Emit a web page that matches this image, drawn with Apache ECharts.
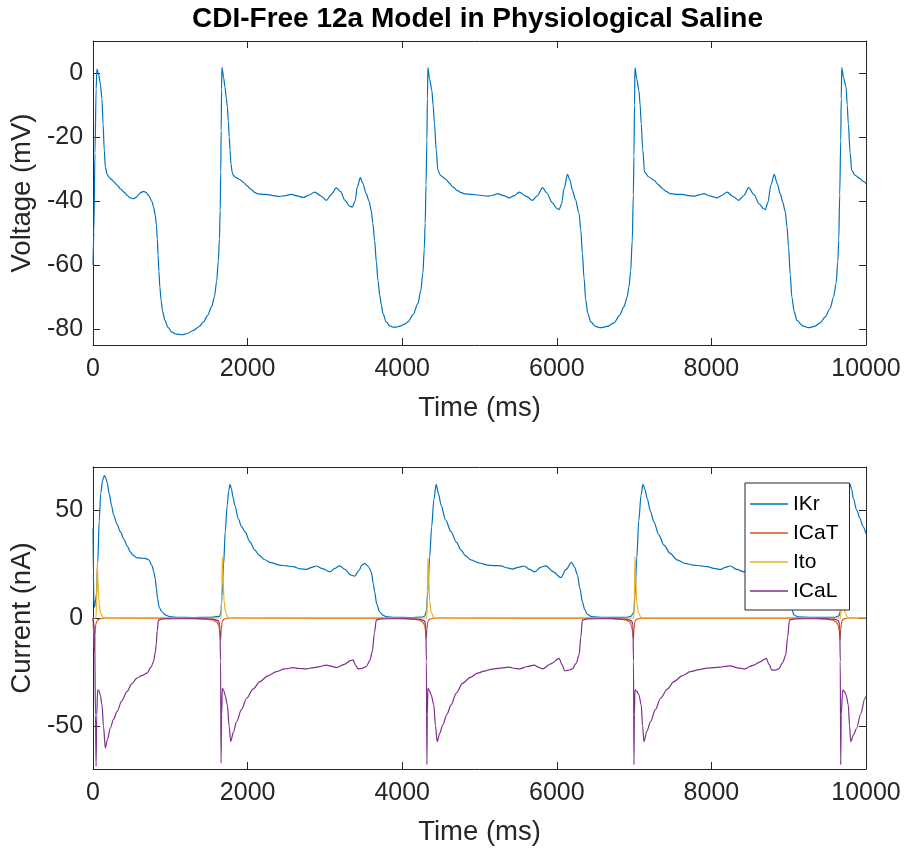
<!DOCTYPE html>
<html>
<head>
<meta charset="utf-8">
<script src="https://cdn.jsdelivr.net/npm/echarts@6/dist/echarts.min.js"></script>
<style>
  html, body { margin: 0; padding: 0; background: #fff; }
  #chart { width: 904px; height: 850px; }
</style>
</head>
<body>
<div id="chart"></div>
<script>
// Simulated membrane voltage (mV) over time (ms)
const voltage = [
  [0,-60],[10,-50],[25,-25],[40,-5],[50,1.2],[70,0],[95,-3.5],[115,-8],[130,-16],[145,-24],[160,-29.5],[180,-31.5],
  [205,-32.5],[240,-33.3],[270,-34],[310,-35],[355,-36.2],[400,-37.2],[440,-38.2],[480,-39],[525,-39.3],[560,-38.8],
  [590,-38],[620,-37.3],[655,-37],[690,-37.4],[720,-38.3],[760,-40],[785,-42],[805,-44.5],[820,-47.5],[832,-52],
  [842,-57],[852,-62],[865,-67],[880,-71],[900,-74.5],[930,-77.3],[970,-79.5],[1020,-81],[1080,-81.6],[1150,-81.8],
  [1220,-81.4],[1300,-80.4],[1370,-79.3],[1430,-77.8],[1480,-75.8],[1535,-73],[1570,-70],[1600,-65],[1620,-59],
  [1635,-52],[1645,-43],[1652,-31],[1658,-18],[1663,-5],[1668,1.8],
  [1690,-1.5],[1707,-4.4],[1725,-8],[1738,-10.6],[1750,-15],[1762,-20],[1772,-24],[1785,-28.5],[1800,-31],[1815,-32],
  [1850,-32.7],[1900,-33.3],[1950,-34.3],[1990,-35.2],[2040,-36.3],[2090,-37.3],[2140,-37.8],[2200,-37.9],[2260,-38],
  [2330,-38.3],[2417,-38.6],[2490,-38.3],[2568,-37.9],[2640,-38.4],[2719,-38.9],[2790,-38.2],[2869,-37.2],[2940,-38.3],
  [3019,-39.8],[3080,-38],[3148,-35.9],[3200,-37],[3260,-39.8],[3320,-41.6],[3355,-41.9],[3390,-40],[3420,-35.5],
  [3458,-32.7],[3490,-34.5],[3535,-37.7],[3570,-40],[3600,-43],[3620,-47],[3643,-52.3],[3665,-59],[3686,-64.8],
  [3710,-69.5],[3730,-72.5],[3751,-75.2],[3794,-77.8],[3840,-79],[3880,-79.4],[3923,-79.4],[3980,-79],[4030,-78.5],
  [4074,-77.8],[4140,-75.5],[4203,-72.1],[4240,-68],[4267,-62.7],[4285,-55],[4297,-47],[4308,-35],[4319,-21],
  [4326,-8],[4332,1.7],
  [4355,-2],[4383,-5.4],[4400,-10],[4417,-15.8],[4440,-24],[4461,-30.4],[4495,-32],[4530,-32.6],[4568,-33.3],
  [4610,-34.4],[4654,-35.6],[4710,-36.7],[4761,-37.4],[4820,-37.8],[4890,-37.9],[5000,-38.2],[5106,-38.5],[5170,-38.2],
  [5235,-37.7],[5310,-38.3],[5385,-39],[5450,-38.3],[5514,-37.2],[5600,-38.5],[5686,-39.8],[5750,-38.3],[5815,-35.8],
  [5870,-37.5],[5940,-40.5],[6000,-42.3],[6030,-42.7],[6060,-41],[6095,-36],[6138,-31.7],[6170,-33.5],[6203,-36.7],
  [6240,-39.5],[6288,-43.9],[6310,-49],[6331,-56.4],[6352,-64],[6374,-71],[6400,-75],[6439,-77.8],[6500,-79.2],
  [6568,-79.6],[6650,-79.2],[6740,-78.1],[6810,-75.8],[6869,-73],[6910,-70],[6933,-66.9],[6955,-62],[6976,-52.3],
  [6990,-38],[6998,-26],[7005,-10],[7011,1.7],
  [7035,-2],[7062,-5.4],[7078,-10],[7092,-15.8],[7112,-24],[7135,-30.9],[7191,-32.5],[7256,-33.5],[7310,-34.8],
  [7364,-36.1],[7420,-37.1],[7471,-37.7],[7540,-37.9],[7622,-37.9],[7700,-38.3],[7772,-38.5],[7840,-38.1],[7901,-37.7],
  [7990,-38.5],[8073,-39],[8140,-38.2],[8202,-37.2],[8280,-38.6],[8353,-39.8],[8420,-38.3],[8482,-35.8],[8550,-38],
  [8620,-41],[8680,-42.5],[8697,-42.7],[8730,-40.5],[8770,-35],[8813,-31.7],[8850,-34.5],[8890,-37.7],[8925,-40.5],
  [8955,-43.4],[8978,-48],[8998,-54.4],[9020,-63],[9041,-70],[9070,-74.5],[9106,-77.3],[9180,-79],[9256,-79.6],
  [9330,-79.2],[9406,-78.1],[9470,-76.3],[9535,-73.6],[9580,-70],[9613,-65.8],[9635,-59],[9647,-52.3],[9660,-38],
  [9673,-21],[9680,-8],[9686,1.7],
  [9710,-1.5],[9742,-4.4],[9757,-10],[9771,-15.8],[9795,-25],[9815,-30.4],[9858,-32],[9923,-33],[9960,-33.8],[10000,-34.6]
];

// Rapid delayed rectifier K+ current (nA)
const iKr = [
  [0,41.5],[5,20],[12,6],[20,5],[35,9],[43,10.6],[60,25],[80,45],[100,58],[125,64],[146,66],[165,65],[181,63.1],
  [210,57.5],[240,52],[267,47.7],[310,43.5],[353,40],[400,36.5],[440,33.5],[482,30.7],[520,29],[568,27.9],[620,27.8],
  [675,27.6],[720,27],[761,24.5],[785,21.5],[804,18.4],[820,13.5],[835,9.1],[855,5],[890,2.9],[940,1.3],[998,0.6],
  [1100,0.3],[1300,0.2],[1500,0.3],[1600,0.6],
  [1640,0.9],[1655,3],[1668,10],[1690,25],[1710,40],[1735,52],[1755,59],[1772,62],[1790,60],[1810,56],[1836,52],
  [1880,46],[1920,42.5],[1965,40],[2030,35.3],[2094,31.5],[2150,29],[2223,27],[2300,25.7],[2417,24.5],[2500,24.2],
  [2589,23.8],[2680,22.8],[2761,22.5],[2830,23.5],[2890,24.1],[2960,23],[3062,21.4],[3130,23],[3191,24.2],[3260,22.5],
  [3330,20],[3385,19.4],[3440,22],[3480,24.6],[3514,25.3],[3560,24],[3600,21.4],[3625,16],[3643,12.2],[3670,6.5],
  [3707,2.9],[3750,1.3],[3794,0.6],[3900,0.3],[4100,0.2],[4250,0.4],
  [4290,0.8],[4310,3],[4332,12.2],[4355,28],[4380,42],[4410,55],[4439,62],[4470,57.5],[4503,52.3],[4560,45.5],
  [4632,40],[4700,35.2],[4761,31.5],[4820,28.8],[4890,26.9],[5000,25.5],[5106,24.5],[5190,24.3],[5277,24.2],
  [5350,23.3],[5428,22.7],[5500,23.5],[5578,24.1],[5650,22.5],[5716,21.4],[5790,23.5],[5858,24.2],[5950,21.5],
  [6052,18.7],[6120,22.5],[6190,25.8],[6230,23.5],[6267,19.9],[6300,13.5],[6331,7.5],[6360,4],[6396,1.7],[6450,0.6],
  [6600,0.3],[6900,0.3],
  [6960,0.8],[6985,2],[6998,2.9],[7011,10],[7035,28],[7060,45],[7090,57],[7114,62],[7140,59.5],[7170,55.4],
  [7210,49.5],[7256,44.6],[7320,38.5],[7385,33.8],[7470,29.8],[7557,26.9],[7660,25.3],[7772,24.5],[7860,24.2],
  [7944,23.8],[8030,23],[8116,22.5],[8180,23.5],[8245,24.1],[8330,22.5],[8417,21.4],[8490,23.3],[8560,24.2],
  [8650,21.5],[8740,18.7],[8810,22.5],[8880,25.8],[8920,23.5],[8960,19.9],[8990,13.5],[9020,7.5],[9045,3.5],
  [9070,1.4],[9120,0.5],[9300,0.3],[9600,0.3],
  [9650,1],[9665,2.9],[9686,10],[9710,28],[9740,45],[9770,57],[9794,62],[9815,59.5],[9836,55.4],[9880,50],
  [9923,46.1],[9960,42.5],[10000,39]
];

// T-type Ca2+ current (nA)
const iCaT = [
  [0,0],[8,-8],[18,-15.6],[25,-8],[35,-3],[50,-1.5],[80,-0.5],[150,0],
  [1300,-0.1],[1450,-0.4],[1550,-0.9],[1600,-1.8],[1625,-3.2],[1640,-6],[1650,-10.2],[1660,-5],[1672,-1.5],[1695,-0.5],[1750,0],
  [4000,-0.1],[4120,-0.4],[4215,-0.9],[4265,-1.8],[4290,-3.2],[4302,-6],[4311,-9.4],[4320,-5],[4332,-1.5],[4355,-0.5],[4410,0],
  [6680,-0.1],[6800,-0.4],[6895,-0.9],[6945,-1.8],[6965,-3.5],[6980,-6],[6990,-9.6],[6999,-5],[7011,-1.5],[7035,-0.5],[7090,0],
  [9350,-0.1],[9470,-0.4],[9565,-0.9],[9615,-1.8],[9640,-3.2],[9655,-6],[9665,-9.8],[9674,-5],[9686,-1.5],[9710,-0.5],[9760,0],
  [10000,0]
];

// Transient outward K+ current (nA)
const iTo = [
  [0,0],[38,0],[46,8],[55,26],[63,18],[78,7],[98,2],[130,0.3],[150,0],
  [1655,0],[1665,10],[1673,28.4],[1682,18],[1695,8],[1715,2.5],[1746,0.3],[1760,0],
  [4318,0],[4325,10],[4332,27.9],[4342,18],[4355,8],[4375,2.5],[4410,0.3],[4430,0],
  [6997,0],[7004,10],[7011,28.4],[7020,18],[7033,8],[7053,2.5],[7090,0.3],[7110,0],
  [9672,0],[9679,10],[9686,28],[9695,18],[9708,8],[9728,2.5],[9765,0.3],[9785,0],
  [10000,0]
];

// L-type Ca2+ current (nA)
const iCaL = [
  [0,0],[20,-5],[32,-45],[39,-68.8],[48,-45],[60,-33.3],[75,-33.5],[94,-35.6],[116,-40.3],[135,-50],[159,-60.3],
  [185,-56.5],[224,-51],[265,-47],[310,-43.4],[370,-38.5],[439,-34.1],[500,-30.5],[568,-27.9],[630,-26.7],[697,-25.6],
  [750,-22.8],[783,-20.2],[805,-16],[817,-12.5],[830,-6],[847,-0.9],[900,-0.4],[1300,-0.3],[1550,-0.5],[1620,-1.2],
  [1640,-3],[1650,-20],[1656,-67.3],[1663,-45],[1673,-32.6],[1690,-33.5],[1707,-35.6],[1738,-40.3],[1760,-50],
  [1781,-57.3],[1815,-53],[1858,-48],[1920,-42.5],[1987,-37.2],[2070,-33],[2159,-29.5],[2260,-26.8],[2374,-24.9],
  [2480,-23.6],[2589,-23],[2670,-23.4],[2761,-23.6],[2850,-23],[2933,-22.5],[3019,-21.8],[3080,-22.3],[3148,-23],
  [3250,-21.5],[3330,-19.8],[3364,-19.4],[3395,-21.8],[3428,-23.6],[3480,-23.3],[3535,-22.5],[3580,-19.8],
  [3613,-15.6],[3640,-7],[3665,-0.9],[3720,-0.4],[4000,-0.3],[4220,-0.5],[4285,-1.2],[4305,-3],[4313,-20],
  [4319,-68],[4325,-45],[4332,-32.6],[4350,-33.5],[4374,-35.6],[4409,-40.3],[4430,-50],[4452,-57.3],[4485,-53.5],
  [4525,-49.5],[4580,-44.5],[4632,-40.3],[4700,-34.8],[4783,-30.2],[4880,-27.5],[4977,-25.6],[5060,-24.6],
  [5148,-23.8],[5270,-23.2],[5385,-22.8],[5450,-23.3],[5514,-23.6],[5610,-22.6],[5707,-21.8],[5760,-22.8],
  [5815,-23.6],[5920,-21.3],[6030,-18.7],[6065,-21.5],[6103,-24.5],[6150,-24.2],[6203,-23.6],[6250,-21],
  [6288,-17.1],[6310,-9],[6331,-0.9],[6400,-0.4],[6700,-0.3],[6900,-0.5],[6965,-1.2],[6985,-3],[6992,-20],
  [6998,-68],[7004,-45],[7011,-33.3],[7035,-34],[7062,-35.6],[7092,-40.3],[7110,-50],[7127,-57.3],[7165,-52.5],
  [7213,-48],[7275,-42.5],[7342,-37.2],[7430,-33],[7514,-29.5],[7620,-26.8],[7729,-24.9],[7840,-23.9],[7944,-23.2],
  [8030,-23],[8116,-22.8],[8180,-22.4],[8245,-22.2],[8340,-23.1],[8439,-23.6],[8490,-22.6],[8546,-21.8],[8630,-20.3],
  [8710,-18.7],[8745,-21.5],[8783,-24.2],[8830,-24.2],[8869,-23.6],[8920,-20.8],[8963,-17.1],[8985,-9],[9010,-0.9],
  [9080,-0.4],[9400,-0.3],[9590,-0.5],[9640,-1.2],[9660,-3],[9667,-20],[9673,-68],[9679,-45],[9699,-33.3],
  [9720,-34],[9742,-35.6],[9771,-40.3],[9787,-50],[9802,-57.3],[9840,-54],[9880,-51],[9930,-44.5],[9987,-37.2],
  [10000,-36.5]
];

// Axis tick values
const timeRange = [0, 10000];
const timeStep = 2000;
const voltageTicks = [-80, -60, -40, -20, 0];
const currentTicks = [-50, 0, 50];
const currentNames = ['IKr', 'ICaT', 'Ito', 'ICaL'];
const currentColors = ['#0072BD', '#D95319', '#EDB120', '#7E2F8E'];

const FONT = "'Liberation Sans', Arial, Helvetica, sans-serif";
const AXIS_COLOR = '#262626';
const plainNumber = v => String(v);

function xAxisPair(gridIndex) {
  const common = {
    type: 'value', gridIndex, min: timeRange[0], max: timeRange[1], interval: timeStep,
    axisLine: { show: true, onZero: false, lineStyle: { color: AXIS_COLOR, width: 1 } },
    axisTick: { show: true, inside: true, length: 7, lineStyle: { color: AXIS_COLOR, width: 1 } },
    splitLine: { show: false }
  };
  return [
    Object.assign({}, common, {
      position: 'bottom',
      axisLabel: { show: true, formatter: plainNumber, fontSize: 25, color: AXIS_COLOR, fontFamily: FONT, margin: 12 },
      name: 'Time (ms)', nameLocation: 'middle', nameGap: 49,
      nameTextStyle: { fontSize: 27.5, color: AXIS_COLOR, fontFamily: FONT }
    }),
    Object.assign({}, common, { position: 'top', axisLabel: { show: false } })
  ];
}

function yAxisPair(gridIndex, min, max, ticks, name) {
  const common = {
    type: 'value', gridIndex, min, max,
    axisLine: { show: true, onZero: false, lineStyle: { color: AXIS_COLOR, width: 1 } },
    axisTick: { show: true, inside: true, length: 7, customValues: ticks, lineStyle: { color: AXIS_COLOR, width: 1 } },
    splitLine: { show: false }
  };
  return [
    Object.assign({}, common, {
      position: 'left',
      axisLabel: { show: true, customValues: ticks, formatter: plainNumber, fontSize: 25, color: AXIS_COLOR, fontFamily: FONT, margin: 10 },
      name, nameLocation: 'middle', nameGap: 41,
      nameTextStyle: { fontSize: 27.5, color: AXIS_COLOR, fontFamily: FONT }
    }),
    Object.assign({}, common, { position: 'right', axisLabel: { show: false } })
  ];
}

function lineSeries(name, data, color, xi, yi) {
  return {
    name, type: 'line', data, xAxisIndex: xi, yAxisIndex: yi,
    symbol: 'none', showSymbol: false, smooth: 0.3, smoothMonotone: 'x', clip: true,
    lineStyle: { color, width: 1.2 }, itemStyle: { color },
    emphasis: { disabled: true }
  };
}

const currentData = [iKr, iCaT, iTo, iCaL];

const chart = echarts.init(document.getElementById('chart'), null, { renderer: 'canvas' });
chart.setOption({
  animation: false,
  backgroundColor: '#ffffff',
  textStyle: { fontFamily: FONT },
  title: {
    text: 'CDI-Free 12a Model in Physiological Saline',
    left: 187, top: 0, padding: 5,
    textStyle: { fontSize: 28, fontWeight: 'bold', color: '#000', fontFamily: FONT }
  },
  grid: [
    { left: 91, right: 38, top: 41, height: 304 },
    { left: 91, right: 38, top: 467, height: 302 }
  ],
  xAxis: [...xAxisPair(0), ...xAxisPair(1)],
  yAxis: [
    ...yAxisPair(0, -85, 10, voltageTicks, 'Voltage (mV)'),
    ...yAxisPair(1, -70, 70, currentTicks, 'Current (nA)')
  ],
  legend: {
    data: currentNames,
    orient: 'vertical',
    left: 745, top: 483,
    icon: 'rect',
    itemWidth: 38, itemHeight: 1.5, itemGap: 7,
    padding: [10, 11, 8, 5],
    backgroundColor: '#ffffff',
    borderColor: AXIS_COLOR, borderWidth: 1,
    textStyle: { fontSize: 21, color: '#000', fontFamily: FONT, lineHeight: 22 },
    selectedMode: false
  },
  series: [
    lineSeries('Voltage', voltage, '#0072BD', 0, 0),
    ...currentNames.map((n, i) => lineSeries(n, currentData[i], currentColors[i], 2, 2))
  ]
});
</script>
</body>
</html>
